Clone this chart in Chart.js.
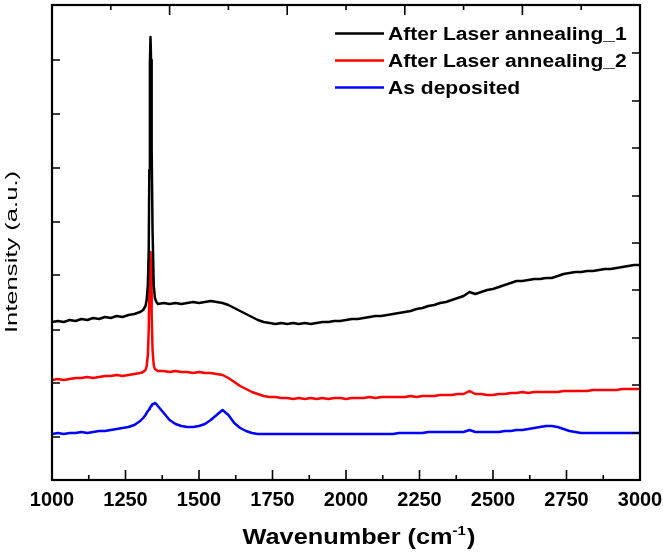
<!DOCTYPE html>
<html>
<head>
<meta charset="utf-8">
<script src="https://cdn.jsdelivr.net/npm/chart.js@4.4.1/dist/chart.umd.min.js"></script>
<style>
  html, body { margin: 0; padding: 0; background: #fff; }
  #ramanChart { display: block; }
</style>
</head>
<body>
<canvas id="ramanChart" width="663" height="557"></canvas>
<script>
// Raman spectra, arbitrary intensity units (curves are offset like in the figure)
const wavenumber = [
  1000, 1020, 1040, 1060, 1080, 1100, 1120, 1140, 1160, 1180, 1200, 1220, 1240, 1260, 1280, 1300,
  1310, 1318, 1322, 1326, 1329, 1331, 1333, 1335, 1337, 1339, 1342, 1346, 1350, 1355, 1360,
  1380, 1400, 1420, 1440, 1460, 1480, 1500, 1520, 1540, 1560, 1580, 1600, 1620, 1640, 1660, 1680,
  1700, 1720, 1740, 1760, 1780, 1800, 1820, 1840, 1860, 1880, 1900, 1920, 1940, 1960, 1980, 2000,
  2020, 2040, 2060, 2080, 2100, 2120, 2140, 2160, 2180, 2200, 2220, 2240, 2260, 2280, 2300, 2320,
  2340, 2360, 2380, 2400, 2420, 2440, 2460, 2480, 2500, 2520, 2540, 2560, 2580, 2600, 2620, 2640,
  2660, 2680, 2700, 2720, 2740, 2760, 2780, 2800, 2820, 2840, 2860, 2880, 2900, 2920, 2940, 2960,
  2980, 3000
];

const annealing1 = [
  158, 159, 158, 160, 159, 161, 160, 162, 161, 163, 162, 164, 163, 165, 166, 168,
  170, 174, 180, 195, 230, 310, 415, 443, 420, 330, 250, 195, 182, 178, 176,
  177, 176, 177, 176, 177, 178, 177, 178, 179, 178, 177, 175, 172, 169, 166, 163,
  160, 158, 157, 156, 157, 156, 157, 156, 157, 156, 157, 158, 158, 159, 159, 160,
  161, 161, 162, 163, 164, 164, 165, 166, 167, 168, 169, 171, 172, 174, 175, 177,
  178, 180, 182, 184, 188, 186, 188, 190, 191, 193, 195, 197, 199, 199, 200, 201,
  201, 202, 202, 204, 206, 207, 208, 208, 209, 209, 210, 211, 211, 212, 213, 214,
  215, 215
];

const annealing2 = [
  100, 101, 100, 101, 102, 102, 103, 102, 103, 104, 104, 105, 104, 105, 106, 107,
  108, 110, 114, 125, 150, 190, 222, 228, 210, 165, 130, 115, 111, 110, 109,
  109, 108, 109, 108, 108, 107, 108, 107, 107, 106, 105, 102, 98, 94, 91, 88,
  86, 84, 83, 83, 82, 82, 81, 82, 81, 82, 81, 82, 81, 82, 82, 81,
  82, 82, 82, 83, 82, 83, 83, 83, 83, 83, 84, 83, 84, 84, 84, 85,
  85, 85, 86, 86, 89, 86, 86, 85, 85, 86, 86, 87, 87, 88, 87, 88,
  88, 88, 88, 88, 89, 89, 89, 89, 89, 90, 90, 90, 90, 90, 91, 91,
  91, 91
];

const asDeposited = [
  46, 47, 46, 47, 47, 48, 47, 48, 49, 49, 50, 51, 52, 53, 55, 59,
  62, 65, 67, 69, 70, 71, 72, 73, 74, 75, 76, 76, 77, 76, 74,
  67, 60, 56, 54, 53, 53, 54, 56, 60, 65, 70, 65, 57, 52, 49, 47,
  46, 46, 46, 46, 46, 46, 46, 46, 46, 46, 46, 46, 46, 46, 46, 46,
  46, 46, 46, 46, 46, 46, 46, 46, 47, 47, 47, 47, 47, 48, 48, 48,
  48, 48, 48, 48, 50, 48, 48, 48, 48, 48, 49, 49, 50, 50, 51, 52,
  53, 54, 54, 53, 51, 49, 48, 47, 47, 47, 47, 47, 47, 47, 47, 47,
  47, 47
];

const seriesLabels = ['After Laser annealing_1', 'After Laser annealing_2', 'As deposited'];
const seriesColors = ['#000000', '#ff0000', '#0000ff'];

// tick positions of the original frame (bottom/top are different, left/right too)
const xMajorTicks = [1000, 1250, 1500, 1750, 2000, 2250, 2500, 2750, 3000];
const xMinorTicks = [1125, 1375, 1625, 1875, 2125, 2375, 2625, 2875];
const topMajorTicks = [1000, 1400, 1800, 2200, 2600, 3000];
const topMinorTicks = [1200, 1600, 2000, 2400, 2800];
const leftTicks = [43, 97, 150, 205, 258, 312, 366, 420];
const rightTicks = [47, 95, 142, 190, 237, 284, 332, 379, 427];

const FONT = '"Liberation Sans", Arial, Helvetica, sans-serif';

const toPoints = ys => wavenumber.map((w, i) => ({ x: w, y: ys[i] }));

const frameAndLabels = {
  id: 'frameAndLabels',
  afterDraw(chart) {
    const { ctx, chartArea: a, scales: { x, y } } = chart;
    ctx.save();

    // ticks pointing inward
    ctx.strokeStyle = '#000';
    ctx.lineWidth = 1.6;
    ctx.beginPath();
    xMajorTicks.forEach(v => { const p = x.getPixelForValue(v); ctx.moveTo(p, a.bottom); ctx.lineTo(p, a.bottom - 10); });
    xMinorTicks.forEach(v => { const p = x.getPixelForValue(v); ctx.moveTo(p, a.bottom); ctx.lineTo(p, a.bottom - 5); });
    topMajorTicks.forEach(v => { const p = x.getPixelForValue(v); ctx.moveTo(p, a.top); ctx.lineTo(p, a.top + 10); });
    topMinorTicks.forEach(v => { const p = x.getPixelForValue(v); ctx.moveTo(p, a.top); ctx.lineTo(p, a.top + 5); });
    leftTicks.forEach(v => { const p = y.getPixelForValue(v); ctx.moveTo(a.left, p); ctx.lineTo(a.left + 8, p); });
    rightTicks.forEach(v => { const p = y.getPixelForValue(v); ctx.moveTo(a.right, p); ctx.lineTo(a.right - 8, p); });
    ctx.stroke();

    ctx.lineWidth = 2.2;
    ctx.strokeRect(a.left, a.top, a.right - a.left, a.bottom - a.top);

    ctx.fillStyle = '#000';

    // legend
    const rows = [40, 67, 94];
    chart.data.datasets.forEach((ds, i) => {
      ctx.strokeStyle = ds.borderColor;
      ctx.lineWidth = 2.5;
      ctx.beginPath();
      ctx.moveTo(335, rows[i] - 6.5);
      ctx.lineTo(384, rows[i] - 6.5);
      ctx.stroke();
      ctx.save();
      ctx.translate(388, rows[i]);
      ctx.scale(1.17, 1);
      ctx.font = 'bold 18px ' + FONT;
      ctx.textAlign = 'left';
      ctx.textBaseline = 'alphabetic';
      ctx.fillText(ds.label, 0, 0);
      ctx.restore();
    });

    // x axis title with superscript
    ctx.save();
    const main = 'Wavenumber (cm', sup = '-1', close = ')';
    ctx.font = 'bold 22px ' + FONT;
    const wMain = ctx.measureText(main).width;
    const wClose = ctx.measureText(close).width;
    ctx.font = 'bold 13px ' + FONT;
    const wSup = ctx.measureText(sup).width;
    const sx = 1.15;
    const total = (wMain + wSup + 1 + wClose) * sx;
    ctx.translate(359 - total / 2, 544);
    ctx.scale(sx, 1);
    ctx.textAlign = 'left';
    ctx.textBaseline = 'alphabetic';
    ctx.font = 'bold 22px ' + FONT;
    ctx.fillText(main, 0, 0);
    ctx.font = 'bold 13px ' + FONT;
    ctx.fillText(sup, wMain, -9);
    ctx.font = 'bold 22px ' + FONT;
    ctx.fillText(close, wMain + wSup + 1, 0);
    ctx.restore();

    // y axis title
    ctx.save();
    ctx.translate(13, 252);
    ctx.rotate(-Math.PI / 2);
    ctx.scale(1.6, 1);
    ctx.font = '16px ' + FONT;
    ctx.textAlign = 'center';
    ctx.textBaseline = 'middle';
    ctx.fillText('Intensity (a.u.)', 0, 0);
    ctx.restore();

    ctx.restore();
  }
};

new Chart(document.getElementById('ramanChart').getContext('2d'), {
  type: 'line',
  data: {
    datasets: [
      { label: seriesLabels[0], data: toPoints(annealing1), borderColor: seriesColors[0] },
      { label: seriesLabels[1], data: toPoints(annealing2), borderColor: seriesColors[1] },
      { label: seriesLabels[2], data: toPoints(asDeposited), borderColor: seriesColors[2] }
    ]
  },
  options: {
    responsive: false,
    animation: false,
    devicePixelRatio: 1,
    layout: { padding: { left: 52, right: 23, top: 5, bottom: 0 } },
    elements: {
      point: { radius: 0 },
      line: { borderWidth: 2.5, tension: 0, borderJoinStyle: 'round' }
    },
    plugins: {
      legend: { display: false },
      tooltip: { enabled: false }
    },
    scales: {
      x: {
        type: 'linear',
        min: 1000,
        max: 3000,
        afterBuildTicks: scale => { scale.ticks = xMajorTicks.map(v => ({ value: v })); },
        afterFit: scale => {
          scale.height = 77;
          scale.paddingLeft = 0;
          scale.paddingRight = 0;
        },
        grid: { display: false, drawTicks: false },
        border: { display: false },
        ticks: {
          autoSkip: false,
          maxRotation: 0,
          padding: 8,
          color: '#000',
          font: { family: FONT, size: 20, weight: 'bold' },
          callback: v => String(v)
        }
      },
      y: {
        type: 'linear',
        min: 0,
        max: 475,
        display: false
      }
    }
  },
  plugins: [frameAndLabels]
});
</script>
</body>
</html>
